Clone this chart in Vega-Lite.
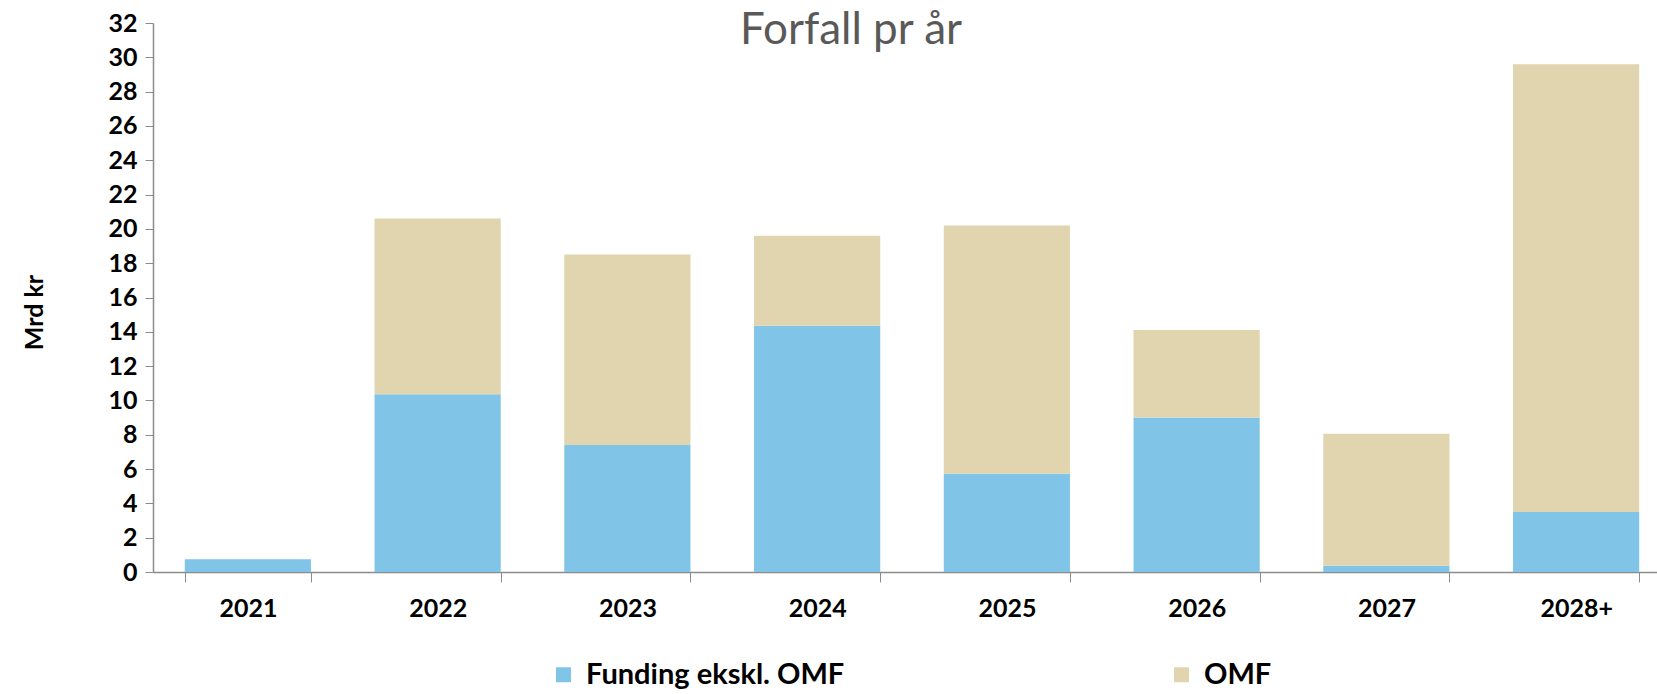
{
  "$schema": "https://vega.github.io/schema/vega-lite/v6.json",
  "width": 1504,
  "height": 549,
  "autosize": {"type": "none"},
  "padding": {"left": 153, "top": 23, "right": 0, "bottom": 122},
  "background": "white",
  "title": {
    "text": "Forfall pr år",
    "font": "Lato",
    "fontSize": 44,
    "fontWeight": "normal",
    "color": "#595959",
    "anchor": "middle",
    "frame": "group",
    "baseline": "alphabetic",
    "offset": -77,
    "dx": -54
  },
  "data": {
    "values": [
      {"year": "2021", "series": "Funding ekskl. OMF", "value": 0.74},
      {"year": "2021", "series": "OMF", "value": 0},
      {"year": "2022", "series": "Funding ekskl. OMF", "value": 10.36},
      {"year": "2022", "series": "OMF", "value": 10.24},
      {"year": "2023", "series": "Funding ekskl. OMF", "value": 7.4},
      {"year": "2023", "series": "OMF", "value": 11.1},
      {"year": "2024", "series": "Funding ekskl. OMF", "value": 14.36},
      {"year": "2024", "series": "OMF", "value": 5.24},
      {"year": "2025", "series": "Funding ekskl. OMF", "value": 5.73},
      {"year": "2025", "series": "OMF", "value": 14.47},
      {"year": "2026", "series": "Funding ekskl. OMF", "value": 9.0},
      {"year": "2026", "series": "OMF", "value": 5.1},
      {"year": "2027", "series": "Funding ekskl. OMF", "value": 0.36},
      {"year": "2027", "series": "OMF", "value": 7.7},
      {"year": "2028+", "series": "Funding ekskl. OMF", "value": 3.5},
      {"year": "2028+", "series": "OMF", "value": 26.1}
    ]
  },
  "mark": {"type": "bar"},
  "encoding": {
    "x": {
      "field": "year",
      "type": "nominal",
      "sort": null,
      "scale": {"range": [0, 1518], "paddingInner": 0.335, "paddingOuter": 0.1675},
      "axis": {
        "title": null,
        "labelAngle": 0,
        "labelFont": "Lato",
        "labelFontSize": 25,
        "labelFontWeight": "bold",
        "labelColor": "#000000",
        "labelPadding": 14,
        "tickBand": "extent",
        "tickSize": 10,
        "tickColor": "#8c8c8c",
        "domainColor": "#8c8c8c",
        "domainWidth": 1.5,
        "grid": false
      }
    },
    "y": {
      "field": "value",
      "type": "quantitative",
      "stack": "zero",
      "scale": {"domain": [0, 32], "nice": false},
      "axis": {
        "title": "Mrd kr",
        "titleFont": "Lato",
        "titleFontSize": 25,
        "titleFontWeight": "bold",
        "titleColor": "#000000",
        "titleAngle": -90,
        "titleAlign": "center",
        "titleBaseline": "middle",
        "titleX": -119,
        "titleY": 289,
        "values": [0, 2, 4, 6, 8, 10, 12, 14, 16, 18, 20, 22, 24, 26, 28, 30, 32],
        "labelFont": "Lato",
        "labelFontSize": 25,
        "labelFontWeight": "bold",
        "labelColor": "#000000",
        "labelPadding": 8,
        "tickSize": 8,
        "tickColor": "#8c8c8c",
        "domainColor": "#8c8c8c",
        "domainWidth": 1.5,
        "grid": false
      }
    },
    "color": {
      "field": "series",
      "type": "nominal",
      "scale": {"domain": ["Funding ekskl. OMF", "OMF"], "range": ["#80C5E8", "#E1D5B0"]},
      "legend": {
        "title": null,
        "orient": "none",
        "legendX": 396,
        "legendY": 637,
        "direction": "horizontal",
        "columns": 2,
        "columnPadding": 322,
        "symbolType": "square",
        "symbolSize": 225,
        "symbolStrokeWidth": 0,
        "labelFont": "Lato",
        "labelFontSize": 29,
        "labelFontWeight": "bold",
        "labelColor": "#000000",
        "labelOffset": 8,
        "labelLimit": 500
      }
    },
    "order": {"field": "series", "sort": "ascending"}
  },
  "config": {"view": {"stroke": null}}
}
